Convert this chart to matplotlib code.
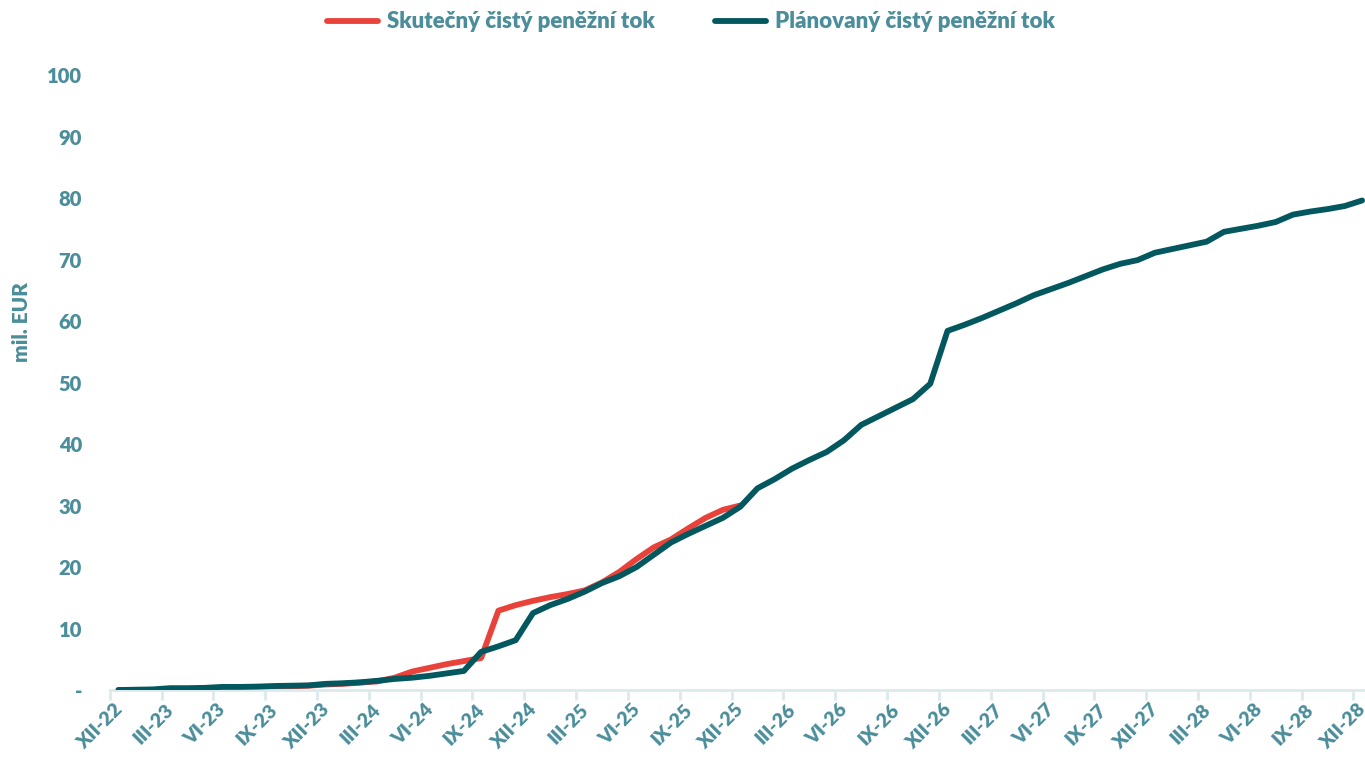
import matplotlib

matplotlib.use("Agg")
import matplotlib.pyplot as plt
import numpy as np

# month labels every quarter, XII-22 .. XII-28 (73 monthly points)
QUARTER_LABELS = [
    "XII-22", "III-23", "VI-23", "IX-23", "XII-23", "III-24", "VI-24", "IX-24",
    "XII-24", "III-25", "VI-25", "IX-25", "XII-25", "III-26", "VI-26", "IX-26",
    "XII-26", "III-27", "VI-27", "IX-27", "XII-27", "III-28", "VI-28", "IX-28",
    "XII-28",
]

# planned cumulative net cash flow (mil. EUR), monthly XII-22 .. XII-28
PLANNED = [
    0.0, 0.05, 0.1, 0.3, 0.3, 0.35, 0.5, 0.5, 0.55, 0.65, 0.7, 0.75,
    1.0, 1.1, 1.25, 1.5, 1.8, 2.0, 2.3, 2.7, 3.1, 6.2, 7.1, 8.1,
    12.5, 13.8, 14.8, 16.0, 17.4, 18.5, 20.0, 22.0, 24.0, 25.4, 26.7, 28.0,
    29.8, 32.8, 34.3, 36.0, 37.4, 38.7, 40.6, 43.1, 44.5, 45.9, 47.3, 49.8,
    58.4, 59.4, 60.5, 61.7, 62.9, 64.2, 65.2, 66.2, 67.3, 68.4, 69.3, 69.9,
    71.1, 71.7, 72.3, 72.9, 74.5, 75.0, 75.5, 76.1, 77.3, 77.8, 78.2, 78.7,
    79.6,
]

# actual cumulative net cash flow (mil. EUR), monthly XII-22 .. XII-25
ACTUAL = [
    0.0, 0.0, 0.0, 0.05, 0.05, 0.1, 0.2, 0.3, 0.4, 0.5, 0.6, 0.7,
    0.9, 1.0, 1.2, 1.4, 2.0, 3.0, 3.6, 4.2, 4.7, 5.2, 12.9, 13.8,
    14.5, 15.1, 15.6, 16.2, 17.5, 19.2, 21.3, 23.2, 24.5, 26.3, 28.0, 29.3,
    30.0,
]

Y_TICKS = [0, 10, 20, 30, 40, 50, 60, 70, 80, 90, 100]
Y_TICK_LABELS = ["-", "10", "20", "30", "40", "50", "60", "70", "80", "90", "100"]

RED = "#E8423A"
TEAL = "#03575F"
TEXT = "#4B8D9A"
AXIS = "#DCEAEE"
WEIGHT = "heavy"

plt.rcParams["font.family"] = ["Lato", "DejaVu Sans"]

fig = plt.figure(figsize=(13.65, 7.6), dpi=100)
ax = fig.add_axes([0.0804, 0.0921, 0.9238, 0.8092])

x_planned = np.arange(len(PLANNED))
x_actual = np.arange(len(ACTUAL))

ax.plot(x_actual, ACTUAL, color=RED, linewidth=4.2, solid_capstyle="round",
        solid_joinstyle="round", label="Skutečný čistý peněžní tok", zorder=2)
ax.plot(x_planned, PLANNED, color=TEAL, linewidth=4.2, solid_capstyle="round",
        solid_joinstyle="round", label="Plánovaný čistý peněžní tok", zorder=3)

ax.set_xlim(-0.5, len(PLANNED) - 0.5)
ax.set_ylim(0, 100)

# label anchors sit a touch left of each quarter month so the last one fits
ax.set_xticks(np.arange(0, len(PLANNED), 3) - 0.3)
ax.set_xticklabels(QUARTER_LABELS, rotation=45, ha="right", va="top",
                   rotation_mode="anchor", color=TEXT, fontsize=14, fontweight=WEIGHT)
ax.set_xticks(np.arange(-0.5, len(PLANNED), 3), minor=True)
ax.tick_params(axis="x", which="major", length=0, pad=8)
ax.tick_params(axis="x", which="minor", length=7, width=2, color=AXIS)

ax.set_yticks(Y_TICKS)
ax.set_yticklabels(Y_TICK_LABELS, color=TEXT, fontsize=14.5, fontweight=WEIGHT)
ax.tick_params(axis="y", length=0, pad=20)

for side in ["top", "right", "left"]:
    ax.spines[side].set_visible(False)
ax.spines["bottom"].set_color(AXIS)
ax.spines["bottom"].set_linewidth(2)

fig.text(22 / 1365, 1 - 322 / 760, "mil. EUR", rotation=90, ha="center", va="center",
         color=TEXT, fontsize=15, fontweight=WEIGHT)

fig.legend(loc="center", bbox_to_anchor=(691 / 1365, 1 - 22 / 760), ncol=2,
           frameon=False, handlelength=2.3, columnspacing=2.7,
           handletextpad=0.4, labelcolor=TEXT, prop={"weight": WEIGHT, "size": 16})

fig.savefig("out.png", dpi=100)
